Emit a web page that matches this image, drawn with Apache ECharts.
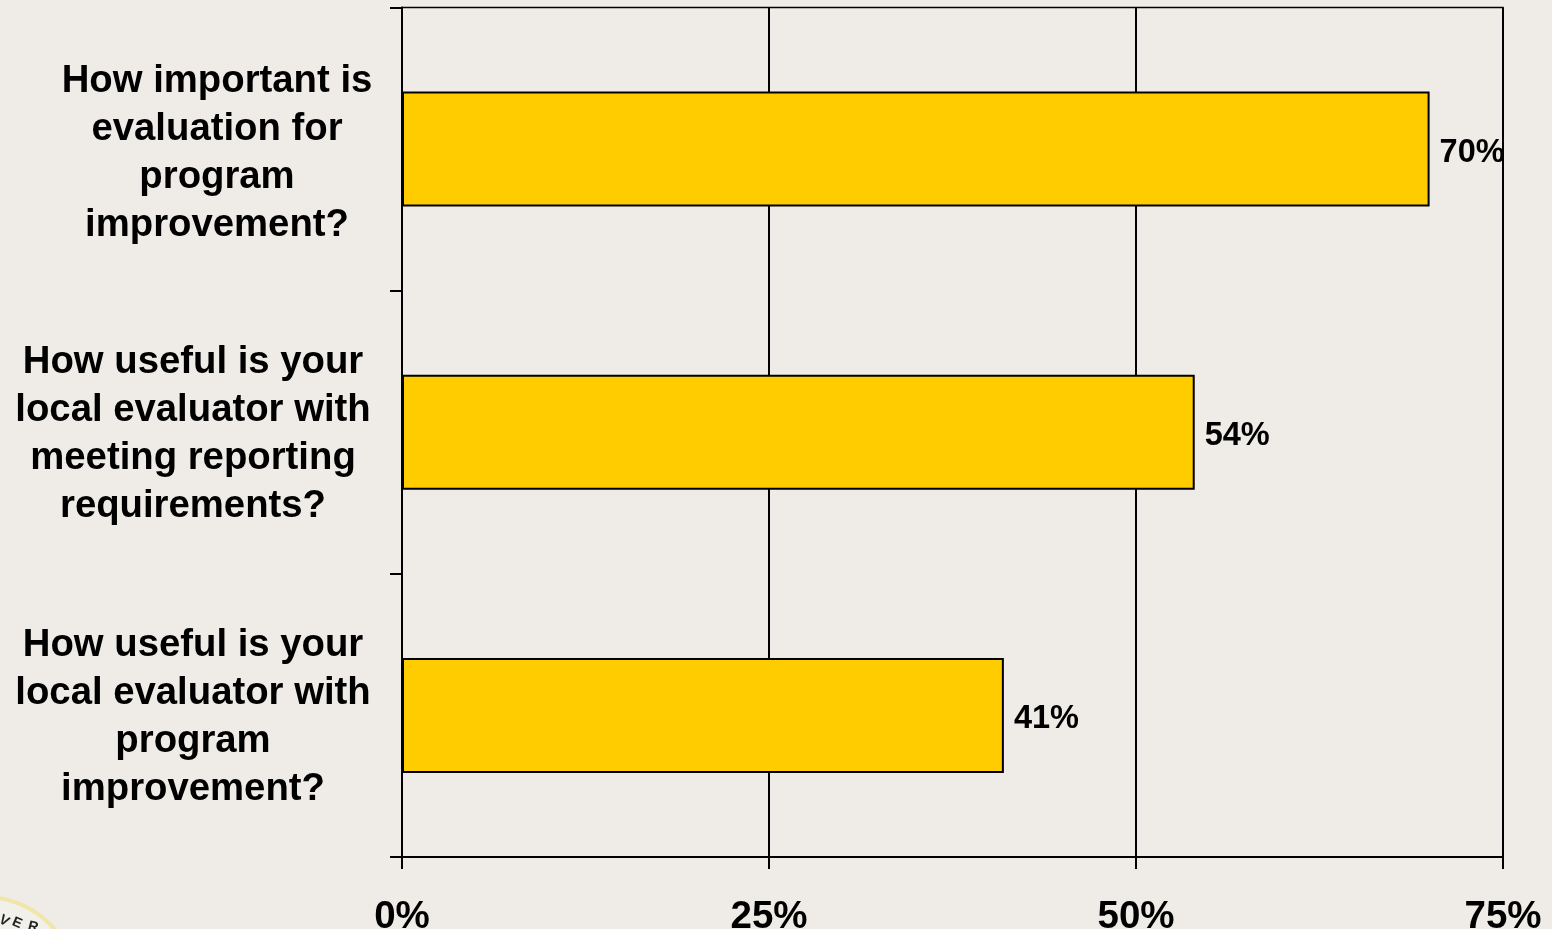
<!DOCTYPE html>
<html><head><meta charset="utf-8">
<style>html,body{margin:0;padding:0;background:#efece7}#c{width:1552px;height:929px}</style>
<script src="https://cdn.jsdelivr.net/npm/echarts@6/dist/echarts.min.js"></script>
</head><body><div id="c"></div>
<script>
const categories = [
  "How useful is your\nlocal evaluator with\nprogram\nimprovement?",
  "How useful is your\nlocal evaluator with\nmeeting reporting\nrequirements?",
  "How important is\nevaluation for\nprogram\nimprovement?"
];
const values = [41, 54, 70];
const tickValues = [0, 25, 50, 75];
const labelPadding = [[-94,0,0,0],[-93.5,0,0,0],[-92,0,0,48]];
const sealLetters = [["V",4,921,0.55],["E",17,923,0.4],["R",33,927,0.25]];
const chart = echarts.init(document.getElementById('c'), null, {renderer:'canvas'});
const font = '"Liberation Sans", Arial, sans-serif';
chart.setOption({
  animation:false,
  backgroundColor:'#efece7',
  grid:{left:402,top:7.5,width:1101,height:849.5,outerBoundsMode:'none',show:true,borderColor:'#000',borderWidth:1.5,backgroundColor:'transparent'},
  xAxis:{type:'value',min:tickValues[0],max:tickValues[3],interval:25,
    axisLine:{show:true,lineStyle:{color:'#000',width:2}},
    axisTick:{show:true,length:12,lineStyle:{color:'#000',width:2}},
    splitLine:{show:true,lineStyle:{color:'#000',width:2}},
    axisLabel:{formatter:'{value}%',color:'#000',fontFamily:font,fontWeight:'bold',fontSize:38.5,margin:41,hideOverlap:false,showMinLabel:true,showMaxLabel:true}},
  yAxis:{type:'category',
    data:categories.map((c,i)=>({value:c,textStyle:{align:'center',verticalAlign:'top',padding:labelPadding[i]}})),
    axisLine:{show:true,onZero:false,lineStyle:{color:'#000',width:2}},
    axisTick:{show:true,length:12,lineStyle:{color:'#000',width:2}},
    axisLabel:{color:'#000',fontFamily:font,fontWeight:'bold',fontSize:38.3,lineHeight:48,align:'center',margin:209,interval:0}},
  series:[{type:'bar',data:values,barWidth:115,
    itemStyle:{color:'#ffcc00',borderColor:'#000',borderWidth:2},
    label:{show:true,position:'right',distance:10,offset:[0,4],formatter:'{c}%',color:'#000',fontFamily:font,fontWeight:'bold',fontSize:32.5}}],
  graphic:[
    {type:'circle',silent:true,z:-1,shape:{cx:-15,cy:988,r:91},style:{fill:'#f2f0eb',stroke:'#efe6a8',lineWidth:4}},
    ...sealLetters.map(([t,x,y,r])=>({type:'text',silent:true,x,y,rotation:-r,originX:0,originY:0,
      style:{text:t,fill:'#222',font:'bold 14px "Liberation Sans", sans-serif',align:'center',verticalAlign:'middle'}}))
  ]
});
</script></body></html>
